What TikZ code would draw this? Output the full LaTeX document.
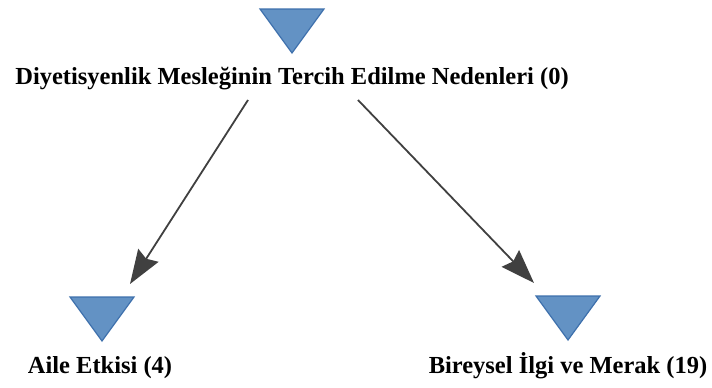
\documentclass[tikz,border=0pt]{standalone}
\usepackage{fontspec}
\setmainfont{Liberation Serif}
\usetikzlibrary{arrows.meta}
\definecolor{trifill}{RGB}{99,146,196}
\definecolor{triedge}{RGB}{62,112,172}
\definecolor{arrgray}{RGB}{64,64,64}
\tikzset{
  lbl/.style={font=\bfseries\fontsize{24.5}{28}\selectfont, inner sep=0pt, anchor=center},
  tri/.style={fill=trifill, draw=triedge, line width=1.2pt, line join=miter},
  arr/.style={draw=arrgray, line width=1.8pt, -{Stealth[length=34pt,width=24pt,inset=4pt]}},
}
\newcommand{\downtri}[1]{%
  \draw[tri] ([shift={(-32,-22)}]#1) -- ([shift={(32,-22)}]#1) -- ([shift={(0,22)}]#1) -- cycle;}
\begin{document}
\begin{tikzpicture}[x=1pt,y=-1pt]
  \useasboundingbox (0,0) rectangle (712,388);
  % markers
  \coordinate (t0) at (292,31);
  \coordinate (tA) at (102,319);
  \coordinate (tB) at (568,318);
  \downtri{t0}
  \downtri{tA}
  \downtri{tB}
  % labels
  \node[lbl] (root) at (292,79) {Diyetisyenlik Mesleğinin Tercih Edilme Nedenleri (0)};
  \node[lbl] (aile) at (100,368) {Aile Etkisi (4)};
  \node[lbl] (bire) at (568,366) {Bireysel İlgi ve Merak (19)};
  % connector ends
  \coordinate (eA) at (130,284);
  \coordinate (eB) at (534,283);
  \draw[arr] (248,100) coordinate (sA) -- (eA);
  \draw[arr] (358,100) coordinate (sB) -- (eB);
\end{tikzpicture}
\end{document}
